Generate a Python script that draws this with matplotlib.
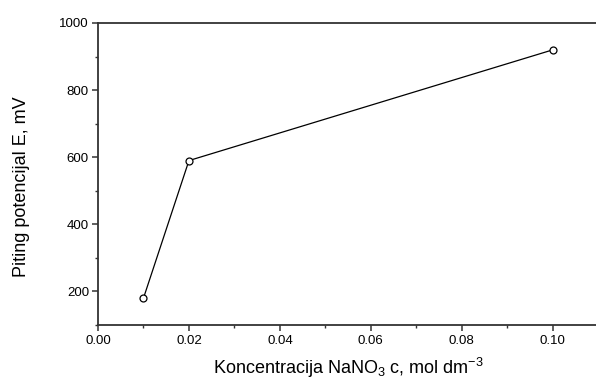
import matplotlib.pyplot as plt
from matplotlib.ticker import MultipleLocator

plt.rcParams['font.family'] = ['Liberation Sans', 'DejaVu Sans']
plt.rcParams['mathtext.fontset'] = 'custom'
plt.rcParams['mathtext.rm'] = 'Liberation Sans'
plt.rcParams['mathtext.it'] = 'Liberation Sans:italic'

# NaNO3 concentration (mol dm^-3) and pitting potential (mV)
concentration = [0.01, 0.02, 0.10]
potential = [180, 590, 920]

fig = plt.figure(figsize=(5.96, 3.8), dpi=100)
ax = fig.add_axes([0.1644, 0.1447, 0.8356, 0.7948])

ax.plot(concentration, potential, color='black', lw=0.9,
        marker='o', markersize=5, markerfacecolor='white',
        markeredgecolor='black', markeredgewidth=0.9)

ax.set_xlim(0, 0.1095)
ax.set_ylim(100, 1000)
ax.xaxis.set_major_locator(MultipleLocator(0.02))
ax.xaxis.set_minor_locator(MultipleLocator(0.01))
ax.yaxis.set_minor_locator(MultipleLocator(100))
ax.set_yticks([200, 400, 600, 800, 1000])
ax.xaxis.set_major_formatter(plt.FormatStrFormatter('%.2f'))

for side in ['left', 'bottom', 'top']:
    ax.spines[side].set_color('#333333')
    ax.spines[side].set_linewidth(1.3)
ax.spines['right'].set_visible(False)

ax.tick_params(which='major', direction='out', length=4, width=1.1,
               color='#333333', labelsize=9.5, pad=2.5)
ax.tick_params(which='minor', direction='out', length=2.2, width=1.0,
               color='#333333')
ax.tick_params(axis='x', which='major', pad=3.5)
ax.tick_params(top=False, which='both')

ax.set_xlabel(r'Koncentracija NaNO$_3$ c, mol dm$^{-3}$', fontsize=13)
ax.set_ylabel('Piting potencijal E, mV', fontsize=13)
ax.xaxis.set_label_coords(0.502, -0.102)
ax.yaxis.set_label_coords(-0.136, 0.457)

fig.savefig('out.png', dpi=100)
